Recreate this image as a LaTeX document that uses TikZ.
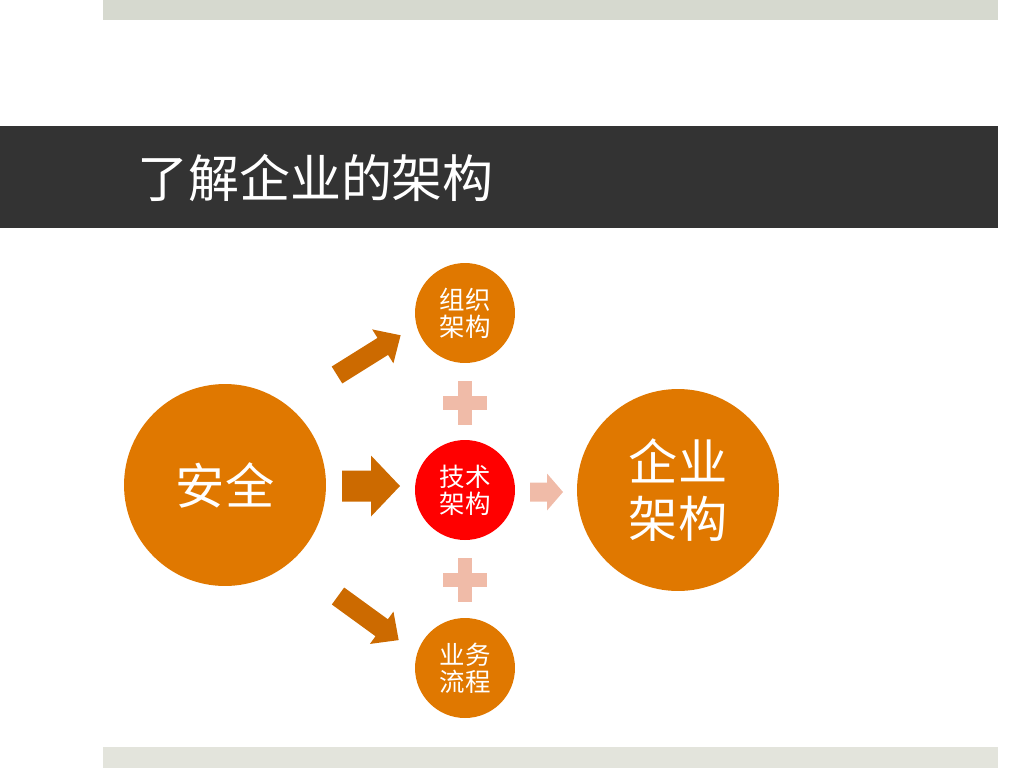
\documentclass[tikz,border=0pt]{standalone}
\usepackage{fontspec}
\newfontfamily\cjk{Noto Sans CJK SC}
\usetikzlibrary{positioning}
\definecolor{bandgrey}{HTML}{333333}
\definecolor{topgrey}{HTML}{D6D9CF}
\definecolor{footgrey}{HTML}{E3E4DC}
\definecolor{ringorange}{HTML}{E07800}
\definecolor{darkorange}{HTML}{CC6A00}
\definecolor{blush}{HTML}{F0BBA8}
\definecolor{techred}{HTML}{FF0000}
% block arrow: style, tail point, angle, length, head length, shaft, head width
\newcommand{\blockarrow}[7]{%
  \begin{scope}[shift={#2}, rotate=#3]
    \fill[#1] (0,-#6/2) -- (#4-#5,-#6/2) -- (#4-#5,-#7/2) -- (#4,0)
      -- (#4-#5,#7/2) -- (#4-#5,#6/2) -- (0,#6/2) -- cycle;
  \end{scope}}

\begin{document}
\begin{tikzpicture}[x=0.02cm, y=-0.02cm, font=\cjk,
    bigdisc/.style={circle, fill=ringorange, minimum size=4.04cm,
                    inner sep=0pt, text=white, align=center},
    smalldisc/.style={circle, fill=ringorange, minimum size=2cm,
                      inner sep=0pt, text=white, align=center,
                      font=\cjk\fontsize{14.5}{15.5}\selectfont},
    plus/.style={fill=blush}]
  \useasboundingbox (0,0) rectangle (1024,768);
  \fill[topgrey] (103,0) rectangle (998,20);
  \fill[footgrey] (103,747) rectangle (998,768);
  \fill[bandgrey] (0,126) rectangle (998,228);
  \node[anchor=west, text=white, font=\cjk\fontsize{29}{32}\selectfont]
    (title) at (131,178) {了解企业的架构};

  \node[bigdisc, font=\cjk\fontsize{28}{30}\selectfont] (safety) at (225,485) {安全};
  \node[bigdisc, font=\cjk\fontsize{28}{32.5}\selectfont] (enterprise) at (678,490) {企业\\架构};
  \node[smalldisc] (org) at (465,313) {组织\\架构};
  \node[smalldisc, fill=techred] (tech) at (465,490) {技术\\架构};
  \node[smalldisc] (process) at (465,668) {业务\\流程};

  % plus signs
  \foreach \py in {403,580} {
    \fill[plus] (443,\py-7) rectangle (487,\py+7);
    \fill[plus] (458,\py-22) rectangle (472,\py+22);
  }

  % arrows
  \blockarrow{darkorange}{(337,375)}{32}{75}{21}{20}{40}
  \blockarrow{darkorange}{(342,486)}{0}{58}{29}{31}{61}
  \blockarrow{darkorange}{(338,596)}{-36}{75}{21}{21}{40}
  \blockarrow{blush}{(530,492)}{0}{33}{16}{19}{37}
\end{tikzpicture}
\end{document}
